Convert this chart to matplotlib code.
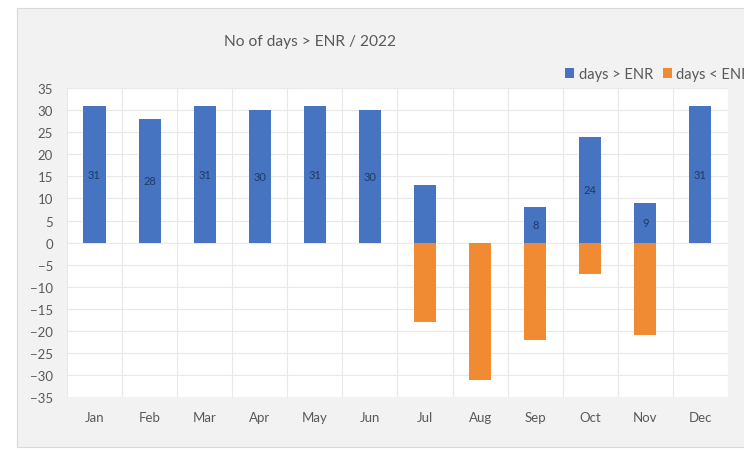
import matplotlib.pyplot as plt
from matplotlib.patches import Rectangle
from matplotlib.ticker import MultipleLocator, FixedLocator

months = ['Jan', 'Feb', 'Mar', 'Apr', 'May', 'Jun', 'Jul', 'Aug', 'Sep', 'Oct', 'Nov', 'Dec']
days_above = [31, 28, 31, 30, 31, 30, 13, 0, 8, 24, 9, 31]
days_below = [0, 0, 0, 0, 0, 0, -18, -31, -22, -7, -21, 0]
# months whose bar carries a value label
labelled = ['Jan', 'Feb', 'Mar', 'Apr', 'May', 'Jun', 'Sep', 'Oct', 'Nov', 'Dec']

BLUE = '#4674C1'
ORANGE = '#F08A33'
GREY_TXT = '#595959'

plt.rcParams['font.family'] = ['Lato', 'DejaVu Sans']

fig = plt.figure(figsize=(7.44, 4.52), dpi=100)
fig.patch.set_facecolor('white')
# chart area panel
panel = Rectangle((17 / 744, 4 / 452), 740 / 744, 439 / 452,
                  transform=fig.transFigure, facecolor='#f2f2f2',
                  edgecolor='#d9d9d9', linewidth=0.8, zorder=-5)
fig.patches.append(panel)

ax = fig.add_axes([0.090, 0.119, 0.8885, 0.684])
ax.set_facecolor('white')

x = range(len(months))
b1 = ax.bar(x, days_above, width=0.40, color=BLUE, label='days > ENR', zorder=3)
b2 = ax.bar(x, days_below, width=0.40, color=ORANGE, label='days < ENR', zorder=3)

labels = [str(v) if m in labelled else '' for m, v in zip(months, days_above)]
ax.bar_label(b1, labels=labels, label_type='center', fontsize=8,
             color='#1f3a66', zorder=4)

ax.set_xlim(-0.5, 11.5)
ax.set_ylim(-35, 35)
ax.yaxis.set_major_locator(MultipleLocator(5))
ax.set_xticks(list(x))
ax.set_xticklabels(months)
ax.xaxis.set_minor_locator(FixedLocator([i + 0.5 for i in range(-1, 12)]))
ax.grid(axis='y', which='major', color='#e8e8e8', linewidth=0.8, zorder=0)
ax.grid(axis='x', which='minor', color='#e8e8e8', linewidth=0.8, zorder=0)
ax.tick_params(axis='both', which='both', length=0, labelsize=9.5, labelcolor=GREY_TXT)
ax.tick_params(axis='x', pad=10)
ax.tick_params(axis='y', pad=10)
for s in ax.spines.values():
    s.set_visible(False)

fig.text(0.416, 0.907, 'No of days > ENR / 2022', ha='center', va='center',
         fontsize=11.2, color=GREY_TXT)

fig.legend(loc='center left', bbox_to_anchor=(0.760, 0.834), ncol=2, frameon=False,
           fontsize=10.5, labelcolor=GREY_TXT, handlelength=0.6, handleheight=0.6,
           handletextpad=0.3, columnspacing=0.7, borderaxespad=0, borderpad=0)

fig.savefig('out.png', dpi=100)
